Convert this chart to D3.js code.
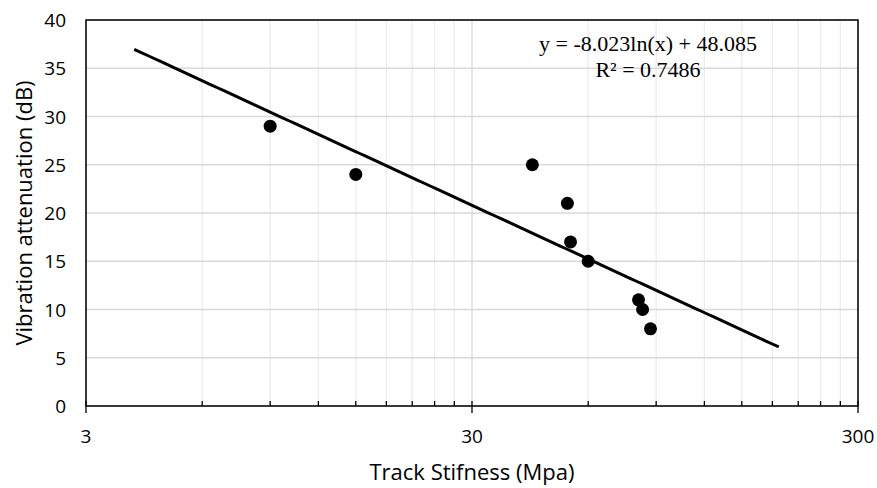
<!DOCTYPE html>
<html>
<head>
<meta charset="utf-8">
<script src="https://cdn.jsdelivr.net/npm/d3@7"></script>
<style>
  body { margin: 0; background: #fff; }
  svg { display: block; }
  .lbl { font-family: "Open Sans", sans-serif; fill: #000; }
  .eq { font-family: "Liberation Serif", "Times New Roman", serif; fill: #000; }
</style>
</head>
<body>
<div id="chart"></div>
<script>
// measured points
var stiffness = [9, 15, 43, 53, 54, 60, 81, 83, 87];
var attenuation = [29, 24, 25, 21, 17, 15, 11, 10, 8];

// axis ticks
var xMajor = [3, 30, 300];
var xMinor = [6, 9, 12, 15, 18, 21, 24, 27, 60, 90, 120, 150, 180, 210, 240, 270];
var yTicks = [0, 5, 10, 15, 20, 25, 30, 35, 40];

// trend line y = a ln(x) + b, drawn over this x range
var trendA = -8.023;
var trendB = 48.085;
var trendRange = [4, 187];

var w = 877, h = 488;
var m = {left: 86, right: 19, top: 20, bottom: 82};

var svg = d3.select('#chart').append('svg')
    .attr('width', w)
    .attr('height', h);

var x = d3.scaleLog().domain([3, 300]).range([m.left, w - m.right]);
var y = d3.scaleLinear().domain([0, 40]).range([h - m.bottom, m.top]);

var g = svg.append('g');

// grid
g.selectAll('.vmin').data(xMinor).enter().append('line')
    .attr('x1', function(d) { return x(d); })
    .attr('x2', function(d) { return x(d); })
    .attr('y1', y(0)).attr('y2', y(40))
    .style('stroke', '#ececec').style('stroke-width', 1.3);

g.selectAll('.hgrid').data(yTicks).enter().append('line')
    .attr('x1', x(3)).attr('x2', x(300))
    .attr('y1', function(d) { return y(d); })
    .attr('y2', function(d) { return y(d); })
    .style('stroke', '#d9d9d9').style('stroke-width', 1.3);

g.selectAll('.vmaj').data(xMajor).enter().append('line')
    .attr('x1', function(d) { return x(d); })
    .attr('x2', function(d) { return x(d); })
    .attr('y1', y(0)).attr('y2', y(40))
    .style('stroke', '#d9d9d9').style('stroke-width', 1.3);

// frame
g.append('rect')
    .attr('x', x(3)).attr('y', y(40))
    .attr('width', x(300) - x(3)).attr('height', y(0) - y(40))
    .style('fill', 'none').style('stroke', '#000').style('stroke-width', 1.5);

// x axis ticks
g.selectAll('.tmin').data(xMinor).enter().append('line')
    .attr('x1', function(d) { return x(d); })
    .attr('x2', function(d) { return x(d); })
    .attr('y1', y(0)).attr('y2', y(0) - 5)
    .style('stroke', '#000').style('stroke-width', 1.3);

g.selectAll('.tmaj').data(xMajor).enter().append('line')
    .attr('x1', function(d) { return x(d); })
    .attr('x2', function(d) { return x(d); })
    .attr('y1', y(0) - 5).attr('y2', y(0) + 7)
    .style('stroke', '#000').style('stroke-width', 1.3);

g.selectAll('.xl').data(xMajor).enter().append('text')
    .attr('class', 'lbl')
    .attr('x', function(d) { return x(d); })
    .attr('y', y(0) + 37)
    .attr('text-anchor', 'middle')
    .style('font-size', '19px')
    .text(function(d) { return d; });

g.selectAll('.yl').data(yTicks).enter().append('text')
    .attr('class', 'lbl')
    .attr('x', 66)
    .attr('y', function(d) { return y(d) + 7; })
    .attr('text-anchor', 'end')
    .style('font-size', '19px')
    .text(function(d) { return d; });

// axis titles
svg.append('text')
    .attr('class', 'lbl')
    .attr('x', (x(3) + x(300)) / 2)
    .attr('y', 480)
    .attr('text-anchor', 'middle')
    .style('font-size', '22px')
    .text('Track Stifness (Mpa)');

svg.append('text')
    .attr('class', 'lbl')
    .attr('transform', 'translate(32,' + ((y(0) + y(40)) / 2) + ') rotate(-90)')
    .attr('text-anchor', 'middle')
    .style('font-size', '22px')
    .text('Vibration attenuation (dB)');

// trend line
var trendPts = d3.range(0, 101).map(function(i) {
    var lx = Math.log(trendRange[0]) + (Math.log(trendRange[1]) - Math.log(trendRange[0])) * i / 100;
    var xv = Math.exp(lx);
    return [xv, trendA * Math.log(xv) + trendB];
});

g.append('path')
    .datum(trendPts)
    .attr('d', d3.line()
        .x(function(d) { return x(d[0]); })
        .y(function(d) { return y(d[1]); }))
    .style('fill', 'none').style('stroke', '#000').style('stroke-width', 3);

// points
g.selectAll('circle').data(stiffness).enter().append('circle')
    .attr('cx', function(d) { return x(d); })
    .attr('cy', function(d, i) { return y(attenuation[i]); })
    .attr('r', 6.5)
    .style('fill', '#000');

// equation
svg.append('text')
    .attr('class', 'eq')
    .attr('x', 648).attr('y', 51)
    .attr('text-anchor', 'middle')
    .style('font-size', '22px')
    .text('y = -8.023ln(x) + 48.085');

svg.append('text')
    .attr('class', 'eq')
    .attr('x', 648).attr('y', 77)
    .attr('text-anchor', 'middle')
    .style('font-size', '22px')
    .text('R² = 0.7486');
</script>
</body>
</html>
